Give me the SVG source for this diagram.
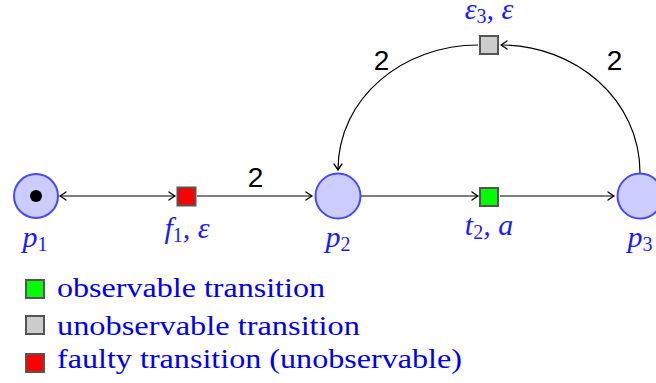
<svg xmlns="http://www.w3.org/2000/svg" width="656" height="383" viewBox="0 0 656 383">
<style>
.place{fill:#ccccff;stroke:#4848ff;stroke-width:2}
.trans{stroke:#555555;stroke-width:2}
.lbl{font-family:"Liberation Serif",serif;font-style:italic;font-size:30px;fill:#1a1aff}
.sub{font-size:20px;font-style:normal}
.w{font-family:"Liberation Sans",Arial,sans-serif;font-size:28px;fill:#000}
.leg{font-family:"Liberation Serif",serif;font-size:28px;fill:#0000f0}
.edge{fill:none;stroke:#000;stroke-width:1.2}
</style>
<defs>
<marker id="ah" markerUnits="userSpaceOnUse" markerWidth="12" markerHeight="12" viewBox="-7 -6 8 12" refX="0" refY="0" orient="auto-start-reverse">
<path d="M-6,-4 Q-1.5,-0.8 0,0 Q-1.5,0.8 -6,4" fill="none" stroke="#000" stroke-width="1.3" stroke-linecap="round"/>
</marker>
</defs>
<g id="connectors">
<path class="edge" d="M60,196 L175,196" marker-start="url(#ah)" marker-end="url(#ah)"/>
<path class="edge" d="M197,196 L312,196" marker-end="url(#ah)"/>
<path class="edge" d="M361,196 L478,196" marker-end="url(#ah)"/>
<path class="edge" d="M500,196 L614,196" marker-end="url(#ah)"/>
<path class="edge" d="M640,173 C640,99 575,45 501,45" marker-end="url(#ah)"/>
<path class="edge" d="M478,45 C404,45 338,97 338,170" marker-end="url(#ah)"/>
<text class="w" x="255.5" y="187" text-anchor="middle">2</text>
<text class="w" x="381.5" y="70" text-anchor="middle">2</text>
<text class="w" x="614.5" y="70" text-anchor="middle">2</text>
</g>
<g id="p1">
<circle class="place" cx="36" cy="196" r="22"/>
<circle cx="36" cy="196" r="6" fill="#000"/>
<text class="lbl" x="35" y="247" text-anchor="middle">p<tspan class="sub" dy="4">1</tspan></text>
</g>
<g id="f1">
<rect class="trans" x="177.5" y="187.5" width="18" height="18" fill="#ff0000"/>
<text class="lbl" x="187" y="238" text-anchor="middle">f<tspan class="sub" dy="4">1</tspan><tspan dy="-4">, ε</tspan></text>
</g>
<g id="p2">
<circle class="place" cx="338" cy="196" r="22.5"/>
<text class="lbl" x="338" y="247" text-anchor="middle">p<tspan class="sub" dy="4">2</tspan></text>
</g>
<g id="t2">
<rect class="trans" x="480" y="188" width="18" height="18" fill="#00ff00"/>
<text class="lbl" x="489" y="235" text-anchor="middle">t<tspan class="sub" dy="4">2</tspan><tspan dy="-4">, a</tspan></text>
</g>
<g id="p3">
<circle class="place" cx="640" cy="196" r="22.5"/>
<text class="lbl" x="640" y="247" text-anchor="middle">p<tspan class="sub" dy="4">3</tspan></text>
</g>
<g id="e3">
<rect class="trans" x="480" y="36" width="18" height="18" fill="#cccccc"/>
<text class="lbl" x="489" y="19" text-anchor="middle">ε<tspan class="sub" dy="4">3</tspan><tspan dy="-4">, ε</tspan></text>
</g>
<g id="legend">
<rect class="trans" x="26" y="280" width="18" height="18" fill="#00ff00"/>
<text class="leg" x="57" y="297" textLength="268" lengthAdjust="spacingAndGlyphs">observable transition</text>
<rect class="trans" x="26" y="316" width="18" height="18" fill="#cccccc"/>
<text class="leg" x="57" y="335" textLength="303" lengthAdjust="spacingAndGlyphs">unobservable transition</text>
<rect class="trans" x="26" y="354" width="18" height="18" fill="#ff0000"/>
<text class="leg" x="57" y="368" textLength="405" lengthAdjust="spacingAndGlyphs">faulty transition (unobservable)</text>
</g>
</svg>
